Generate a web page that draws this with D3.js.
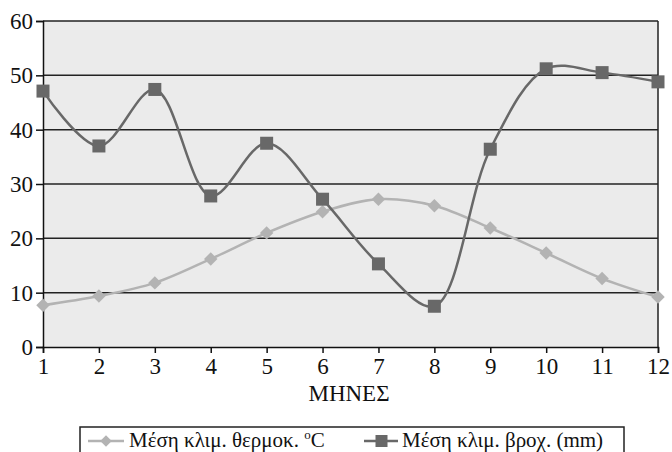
<!DOCTYPE html>
<html>
<head>
<meta charset="utf-8">
<script src="https://cdn.jsdelivr.net/npm/d3@7"></script>
<style>
  body { margin: 0; background: #fff; }
</style>
</head>
<body>
<svg width="672" height="452"></svg>
<script>
// months 1..12
const months = [1, 2, 3, 4, 5, 6, 7, 8, 9, 10, 11, 12];
// average temperature (°C)
const tempValues = [7.7, 9.4, 11.8, 16.2, 21.0, 24.9, 27.2, 26.0, 21.9, 17.3, 12.6, 9.2];
// average rainfall (mm)
const rainValues = [47.1, 37.0, 47.4, 27.8, 37.5, 27.2, 15.3, 7.5, 36.4, 51.2, 50.5, 48.8];
const yTicks = [0, 10, 20, 30, 40, 50, 60];

const xTitle = 'ΜΗΝΕΣ';
const tempLabel = 'Μέση κλιμ. θερμοκ. ';
const rainLabel = 'Μέση κλιμ. βροχ. (mm)';

const serif = "'Liberation Serif', 'Times New Roman', Times, 'DejaVu Serif', serif";

const svg = d3.select('svg');

const plotLeft = 43, plotRight = 658, plotTop = 21, plotBottom = 347;

const x = d3.scaleLinear().domain([1, 12]).range([plotLeft, plotRight]);
const y = d3.scaleLinear().domain([0, 60]).range([plotBottom, plotTop]);

// plot background
svg.append('rect')
  .attr('x', plotLeft).attr('y', plotTop)
  .attr('width', plotRight - plotLeft).attr('height', plotBottom - plotTop)
  .attr('fill', '#ebebeb');

// gridlines
svg.append('g').selectAll('line').data(yTicks.filter(d => d > 0))
  .enter().append('line')
  .attr('x1', plotLeft).attr('x2', plotRight)
  .attr('y1', d => y(d)).attr('y2', d => y(d))
  .attr('stroke', '#222').attr('stroke-width', 1.5);

// right border
svg.append('line')
  .attr('x1', plotRight).attr('x2', plotRight).attr('y1', plotTop).attr('y2', plotBottom)
  .attr('stroke', '#222').attr('stroke-width', 1.5);

// y axis
const yAxis = svg.append('g')
  .attr('transform', `translate(${plotLeft},0)`)
  .call(d3.axisLeft(y).tickValues(yTicks).tickSize(7).tickPadding(3).tickFormat(d3.format('d')));
yAxis.select('.domain').attr('stroke', '#111').attr('stroke-width', 1.5);
yAxis.selectAll('.tick line').attr('stroke', '#111').attr('stroke-width', 1.5);
yAxis.selectAll('text').style('font-size', '23px').style('font-family', serif).attr('fill', '#111');

// x axis
const xAxis = svg.append('g')
  .attr('transform', `translate(0,${plotBottom})`)
  .call(d3.axisBottom(x).tickValues(months).tickSize(6).tickPadding(5).tickFormat(d3.format('d')));
xAxis.select('.domain').attr('stroke', '#111').attr('stroke-width', 1.5);
xAxis.selectAll('.tick line').attr('stroke', '#111').attr('stroke-width', 1.5);
xAxis.selectAll('text').style('font-size', '23px').style('font-family', serif).attr('fill', '#111');

// x title
svg.append('text')
  .attr('x', 349).attr('y', 401)
  .attr('text-anchor', 'middle')
  .style('font-size', '23px').style('font-family', serif)
  .attr('fill', '#111')
  .text(xTitle);

const line = d3.line()
  .x((d, i) => x(months[i]))
  .y(d => y(d))
  .curve(d3.curveCatmullRom.alpha(0.5));

const tempColor = '#b3b3b3';
const rainColor = '#686868';

// temperature series
svg.append('path').datum(tempValues)
  .attr('d', line)
  .attr('fill', 'none').attr('stroke', tempColor).attr('stroke-width', 2.5);

svg.append('g').selectAll('path').data(tempValues)
  .enter().append('path')
  .attr('d', d3.symbol().type(d3.symbolSquare2).size(115))
  .attr('transform', (d, i) => `translate(${x(months[i])},${y(d)}) rotate(45)`)
  .attr('fill', tempColor);

// rainfall series
svg.append('path').datum(rainValues)
  .attr('d', line)
  .attr('fill', 'none').attr('stroke', rainColor).attr('stroke-width', 2.5);

svg.append('g').selectAll('rect').data(rainValues)
  .enter().append('rect')
  .attr('x', (d, i) => x(months[i]) - 6.5)
  .attr('y', d => y(d) - 6.5)
  .attr('width', 13).attr('height', 13)
  .attr('fill', rainColor);

// legend
const legend = svg.append('g');
legend.append('rect')
  .attr('x', 80).attr('y', 427)
  .attr('width', 544).attr('height', 40)
  .attr('fill', '#fff').attr('stroke', '#222').attr('stroke-width', 1.5);

legend.append('line')
  .attr('x1', 88).attr('x2', 124).attr('y1', 441).attr('y2', 441)
  .attr('stroke', tempColor).attr('stroke-width', 2.5);
legend.append('path')
  .attr('d', d3.symbol().type(d3.symbolSquare2).size(85))
  .attr('transform', 'translate(106,441) rotate(45)')
  .attr('fill', tempColor);
const tempText = legend.append('text')
  .attr('x', 129).attr('y', 447)
  .style('font-size', '21px').style('font-family', serif)
  .attr('fill', '#111')
  .text(tempLabel);
tempText.append('tspan').style('font-size', '13px').attr('dy', -8).text('o');
tempText.append('tspan').attr('dy', 8).text('C');

legend.append('line')
  .attr('x1', 364).attr('x2', 398).attr('y1', 441).attr('y2', 441)
  .attr('stroke', rainColor).attr('stroke-width', 2.5);
legend.append('rect')
  .attr('x', 375.5).attr('y', 435).attr('width', 12).attr('height', 12)
  .attr('fill', rainColor);
legend.append('text')
  .attr('x', 402).attr('y', 447)
  .style('font-size', '21px').style('font-family', serif)
  .attr('fill', '#111')
  .text(rainLabel);
</script>
</body>
</html>
